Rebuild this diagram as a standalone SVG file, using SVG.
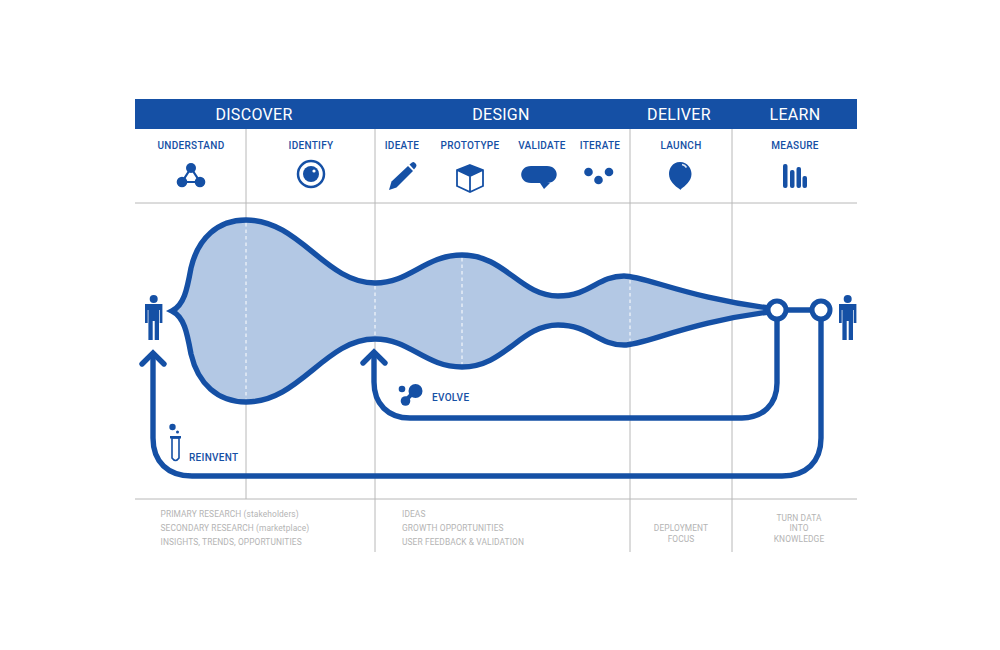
<svg xmlns="http://www.w3.org/2000/svg" width="1000" height="650" viewBox="0 0 1000 650">
<style>
text{font-family:"Roboto","Liberation Sans",sans-serif}
.h{font-size:16px;fill:#fff;text-anchor:middle;letter-spacing:.3px}
.s{font-size:10px;font-weight:500;fill:#1550a5;text-anchor:middle;letter-spacing:.3px}
.n{font-size:8.4px;fill:#b4b4b4;letter-spacing:.1px}
.m{text-anchor:middle}
.g{stroke:#b8b8b8;stroke-width:1;fill:none}
.b{stroke:#1550a5;fill:none;stroke-width:5.400}
.d{stroke:#fff;stroke-width:1;stroke-dasharray:3.5 3;fill:none}
.i{fill:#1550a5}
</style>
<defs>
<g id="person"><circle cx="0" cy="-18" r="4"/><path d="M-8.700-13H8.700V6H6V-7H5.300V23H1V4H-1V23H-5.300V-7H-6V6H-8.700Z"/></g>
</defs>
<rect id="band" x="135" y="99" width="722" height="30" fill="#1550a5"/>
<g id="grid">
<path class="g" d="M135 203H857M135 499H857M246 129V220M246 402V499M375 129V283M375 339V552M630 129V276M630 345V552M732 129V552"/>
</g>
<g id="headers">
<text class="h" x="254" y="119.500">DISCOVER</text>
<text class="h" x="501" y="119.500">DESIGN</text>
<text class="h" x="679" y="119.500">DELIVER</text>
<text class="h" x="795" y="119.500">LEARN</text>
</g>
<g id="funnel">
<path d="M172 311C184 305 187 290 191 268C198 238 218 220 246 220C300 220 325 283 375 283C410 283 425 255 462 255C505 255 520 296 558 296C590 296 598 276 624 276C645 276 690 299 777 309V311C690 321 645 345 624 345C598 345 590 325 558 325C520 325 505 367 462 367C425 367 410 339 375 339C325 339 300 402 246 402C218 402 198 384 191 354C187 332 184 317 172 311Z" fill="#b3c8e4" stroke="#1550a5" stroke-width="5.400" stroke-linejoin="miter"/>
<path class="d" d="M246 223V399M375 286V336M462 258V364M630 280V341"/>
</g>
<g id="connectors">
<path class="b" d="M777 311V383C777 405 762 418 742 418H410C388 418 374 404 374 382V353"/>
<path class="b" stroke-linecap="round" d="M363 363L374 352L385 363"/>
<path class="b" d="M821 311V438C821 462 806 476 782 476H192C168 476 153 462 153 438V354"/>
<path class="b" stroke-linecap="round" d="M142 364L153 353L164 364"/>
<path class="b" d="M777 310H821"/>
</g>
<g id="node-out1"><circle cx="777" cy="310" r="9" fill="#fff" stroke="#1550a5" stroke-width="5"/></g>
<g id="node-out2"><circle cx="821" cy="310" r="9" fill="#fff" stroke="#1550a5" stroke-width="5"/></g>
<g id="person-left" class="i"><use href="#person" x="153.700" y="317"/></g>
<g id="person-right" class="i"><use href="#person" x="847.700" y="317"/></g>
<g id="understand"><text class="s" x="191" y="149">UNDERSTAND</text>
<path d="M191 168L182 182H200Z" fill="none" stroke="#1550a5" stroke-width="2.200"/><circle class="i" cx="191" cy="168" r="5"/><circle class="i" cx="182" cy="182" r="5.300"/><circle class="i" cx="200" cy="182" r="5.300"/></g>
<g id="identify"><text class="s" x="311" y="149">IDENTIFY</text>
<circle cx="311" cy="174" r="13" fill="none" stroke="#1550a5" stroke-width="2.500"/><circle class="i" cx="311" cy="174" r="8"/><circle cx="314" cy="171" r="1.600" fill="#fff"/></g>
<g id="ideate"><text class="s" x="402" y="149">IDEATE</text>
<path class="i" d="M389 190L391.500 181.500L408 166L413 171L396.500 187.500Z"/><path class="i" d="M409.500 164.500L412 162.500Q413.500 161.500 415 163L416 164Q417 165.500 416 167L414 169.500Z"/></g>
<g id="prototype"><text class="s" x="470" y="149">PROTOTYPE</text>
<path d="M470 165L483 170V186L470 192L457 186V170ZM457 170L470 176L483 170M470 176V192" fill="none" stroke="#1550a5" stroke-width="1.800"/><path class="i" d="M470 165L483 170L470 176L457 170Z"/></g>
<g id="validate"><text class="s" x="542" y="149">VALIDATE</text>
<path class="i" d="M531 166H547C560 166 560 183 547 183H550L544 189L540 183H531C518 183 518 166 531 166Z"/></g>
<g id="iterate"><text class="s" x="600" y="149">ITERATE</text>
<circle class="i" cx="588.500" cy="172" r="4.300"/><circle class="i" cx="609" cy="172" r="4.300"/><circle class="i" cx="598.500" cy="180" r="4.300"/></g>
<g id="launch"><text class="s" x="681" y="149">LAUNCH</text>
<path class="i" d="M680 162C688 162 691.500 169 691.500 174C691.500 181 685 186 681 189L680.500 190L679.500 189C675 186 669 181 669 174C669 169 672 162 680 162Z"/><path d="M682 164.500Q685 165 686.500 167.500" stroke="#dce6f4" stroke-width="1.500" fill="none"/></g>
<g id="measure"><text class="s" x="795" y="149">MEASURE</text>
<g class="i"><rect x="783" y="164" width="4.500" height="24" rx="2"/><rect x="790" y="170" width="4.500" height="18" rx="2"/><rect x="796.500" y="167" width="4.500" height="21" rx="2"/><rect x="802.500" y="176" width="4.500" height="12" rx="2"/></g></g>
<g id="evolve"><g class="i"><circle cx="415.500" cy="391" r="7"/><circle cx="405.500" cy="401" r="4.800"/><circle cx="402" cy="389" r="3.300"/></g><path d="M415 391L405 401" stroke="#1550a5" stroke-width="4"/>
<text x="432" y="401" font-size="10" font-weight="500" fill="#1550a5" letter-spacing=".3">EVOLVE</text></g>
<g id="reinvent"><circle class="i" cx="172.500" cy="427" r="3.200"/><circle class="i" cx="177.500" cy="432" r="1.500"/>
<path d="M172 438H179V458Q175.500 463 172 458Z" fill="none" stroke="#1550a5" stroke-width="1.600"/><rect class="i" x="170" y="436" width="11" height="2.500"/>
<text x="189" y="461" font-size="10" font-weight="500" fill="#1550a5" letter-spacing=".3">REINVENT</text></g>
<g id="notes">
<text class="n" x="160.500" y="517">PRIMARY RESEARCH (stakeholders)</text>
<text class="n" x="160.500" y="531">SECONDARY RESEARCH (marketplace)</text>
<text class="n" x="160.500" y="545">INSIGHTS, TRENDS, OPPORTUNITIES</text>
<text class="n" x="402" y="517">IDEAS</text>
<text class="n" x="402" y="531">GROWTH OPPORTUNITIES</text>
<text class="n" x="402" y="545">USER FEEDBACK &amp; VALIDATION</text>
<text class="n m" x="681" y="531">DEPLOYMENT</text>
<text class="n m" x="681" y="542">FOCUS</text>
<text class="n m" x="799" y="521">TURN DATA</text>
<text class="n m" x="799" y="531">INTO</text>
<text class="n m" x="799" y="542">KNOWLEDGE</text>
</g>
</svg>
